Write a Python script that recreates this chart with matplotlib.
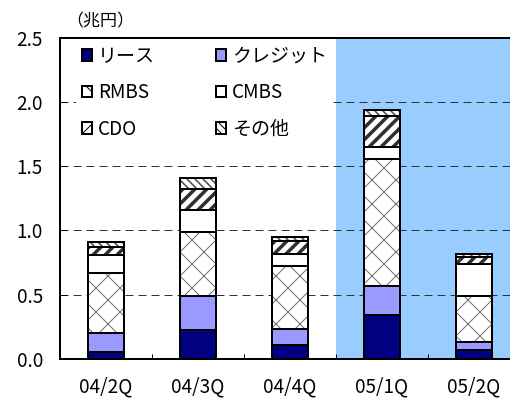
import matplotlib
matplotlib.use('Agg')
import matplotlib.pyplot as plt
from matplotlib.patches import Patch
import numpy as np

plt.rcParams['font.family'] = ['Noto Sans CJK JP', 'DejaVu Sans']

quarters = ['04/2Q', '04/3Q', '04/4Q', '05/1Q', '05/2Q']
lease = [0.05, 0.22, 0.11, 0.34, 0.07]
credit = [0.15, 0.27, 0.12, 0.23, 0.06]
rmbs = [0.47, 0.50, 0.49, 0.99, 0.36]
cmbs = [0.14, 0.17, 0.10, 0.09, 0.25]
cdo = [0.06, 0.16, 0.10, 0.24, 0.05]
other = [0.04, 0.09, 0.03, 0.05, 0.03]

names = ['リース', 'クレジット', 'RMBS', 'CMBS', 'CDO', 'その他']
series = [lease, credit, rmbs, cmbs, cdo, other]
fills = ['#000080', '#9999FF', 'white', 'white', 'white', 'white']
hatches = [None, None, 'x', None, '//', '\\\\\\']
hatch_cols = ['#000080', '#9999FF', '#707070', 'white', '#303030', '#505050']
hatch_lw = [1, 1, 1.0, 1, 3.5, 1.6]

fig = plt.figure(figsize=(510/72, 399/72), dpi=72)
ax = fig.add_axes([60/510, 40.3/399, 460/510, 320.7/399])

x = np.arange(len(quarters))
w = 0.40
bottom = np.zeros(len(quarters))

ax.axvspan(2.5, 4.5, color='#99CCFF', zorder=0, lw=0)

for vals, fc, h, hc, hl in zip(series, fills, hatches, hatch_cols, hatch_lw):
    with plt.rc_context({'hatch.linewidth': hl}):
        bars = ax.bar(x, vals, w, bottom=bottom, color=fc, hatch=h,
                      edgecolor=hc, linewidth=0, zorder=2)
        for b in bars:
            if hasattr(b, 'set_hatch_linewidth'):
                b.set_hatch_linewidth(hl)
    ax.bar(x, vals, w, bottom=bottom, fill=False, edgecolor='black',
           linewidth=2, zorder=3)
    bottom += np.array(vals)

ax.set_xlim(-0.5, 4.5)
ax.set_ylim(0, 2.5)
ax.set_yticks([0, 0.5, 1.0, 1.5, 2.0, 2.5])
ax.set_yticklabels(['0.0', '0.5', '1.0', '1.5', '2.0', '2.5'])
ax.set_xticks(x)
ax.set_xticklabels(quarters)
ax.set_xticks(x[:-1] + 0.5, minor=True)
ax.tick_params(axis='x', which='major', length=0, labelsize=19, pad=18)
ax.tick_params(axis='x', which='minor', direction='in', length=5, width=1)
ax.tick_params(axis='y', direction='in', length=7, width=1, labelsize=19, pad=17)

ax.yaxis.grid(True, linestyle=(0, (8, 5)), color='#333333', linewidth=1)
ax.set_axisbelow(True)
for g in ax.get_ygridlines():
    g.set_zorder(1)

for s in ['left', 'bottom', 'top']:
    ax.spines[s].set_linewidth(2)
ax.spines['right'].set_visible(False)

handles = []
for fc, h, n in zip(fills, hatches, names):
    handles.append(Patch(facecolor=fc, edgecolor='black', hatch=h, linewidth=2, label=n))
# row-wise order for a two-column legend
order = [0, 2, 4, 1, 3, 5]
leg = ax.legend([handles[i] for i in order], [names[i] for i in order],
                ncol=2, loc='upper left', bbox_to_anchor=(76/510, 1 - 40/399),
                bbox_transform=fig.transFigure, frameon=True, fontsize=19,
                handlelength=0.55, handleheight=0.55, handletextpad=0.3,
                columnspacing=3.2, labelspacing=0.82, borderpad=0.3,
                borderaxespad=0)
leg.get_frame().set_facecolor('white')
leg.get_frame().set_edgecolor('none')
leg.get_frame().set_alpha(1)
leg.set_zorder(5)

fig.text(66/510, 1 - 21/399, '（兆円）', fontsize=17, va='center', ha='left')

fig.savefig('out.png', dpi=72)
